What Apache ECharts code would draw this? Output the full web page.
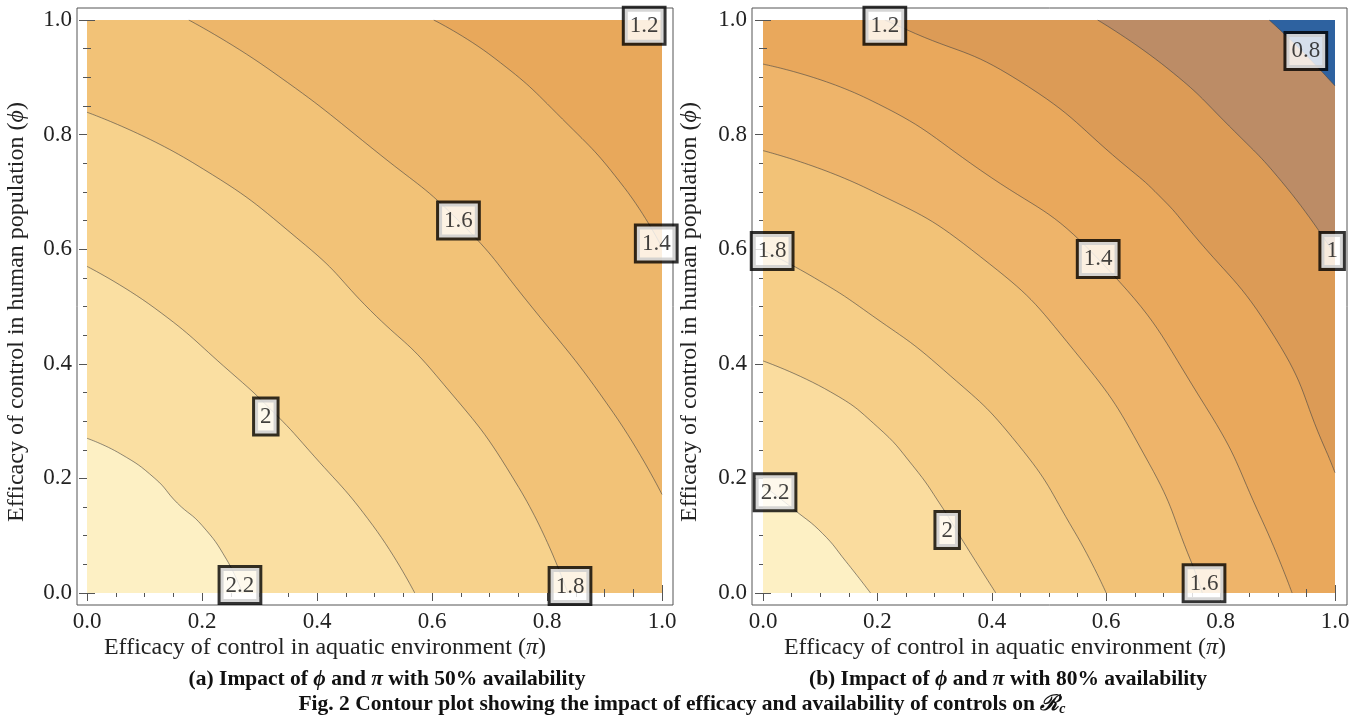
<!DOCTYPE html>
<html>
<head>
    <meta charset="utf-8" />
    <title>Contour plot</title>
    <script src="https://cdn.jsdelivr.net/npm/echarts@6.0.0/dist/echarts.min.js"></script>
</head>
<body style="margin:0;background:#fff">
    <div id="main" style="width:1364px;height:725px;"></div>
    <script type="text/javascript">
        // tick labels shared by all four axes
        var tickLabels = ['0.0', '0.2', '0.4', '0.6', '0.8', '1.0'];

        // (a) 50% availability : contour lines as [pi, phi]
        var a22 = [[0, 0.270], [0.058, 0.243], [0.118, 0.200], [0.157, 0.157], [0.200, 0.118], [0.243, 0.058], [0.270, 0]];
        var a20 = [[0, 0.570], [0.118, 0.497], [0.249, 0.386], [0.320, 0.320], [0.386, 0.249], [0.497, 0.118], [0.570, 0]];
        var a18 = [[0, 0.839], [0.184, 0.751], [0.380, 0.607], [0.493, 0.493], [0.607, 0.380], [0.751, 0.184], [0.836, 0]];
        var a16 = [[0.177, 1], [0.315, 0.915], [0.511, 0.764], [0.648, 0.648], [0.764, 0.511], [0.915, 0.315], [1, 0.172]];
        var a14 = [[0.603, 1], [0.708, 0.934], [0.827, 0.827], [0.934, 0.708], [1, 0.603]];
        // contour labels [pi, phi, text]
        var aLabels = [[0.969, 0.99, '1.2'], [0.646, 0.65, '1.6'], [0.99, 0.61, '1.4'],
                       [0.311, 0.308, '2'], [0.266, 0.014, '2.2'], [0.840, 0.012, '1.8']];

        // (b) 80% availability
        var b22 = [[0, 0.188], [0.055, 0.145], [0.104, 0.104], [0.145, 0.055], [0.188, 0]];
        var b20 = [[0, 0.405], [0.118, 0.351], [0.200, 0.290], [0.262, 0.222], [0.313, 0.150], [0.350, 0.090], [0.407, 0]];
        var b18 = [[0, 0.598], [0.090, 0.550], [0.184, 0.489], [0.315, 0.390], [0.446, 0.259], [0.544, 0.108], [0.600, 0]];
        var b16 = [[0, 0.772], [0.184, 0.705], [0.380, 0.587], [0.544, 0.423], [0.675, 0.226], [0.748, 0.056], [0.768, 0]];
        var b14 = [[0, 0.923], [0.184, 0.862], [0.380, 0.738], [0.586, 0.583], [0.774, 0.325], [0.872, 0.128], [0.925, 0]];
        var b12 = [[0.213, 1], [0.249, 0.984], [0.446, 0.895], [0.643, 0.738], [0.693, 0.693], [0.738, 0.643], [0.895, 0.446], [0.984, 0.249], [1, 0.21]];
        var b10 = [[0.585, 1], [0.708, 0.915], [0.815, 0.815], [0.915, 0.708], [1, 0.590]];
        var b08 = [[0.885, 1], [0.944, 0.944], [1, 0.885]];
        var bLabels = [[0.213, 0.99, '1.2'], [0.949, 0.946, '0.8'], [0.016, 0.597, '1.8'], [0.586, 0.583, '1.4'],
                       [0.995, 0.597, '1'], [0.021, 0.176, '2.2'], [0.322, 0.110, '2'], [0.771, 0.017, '1.6']];

        var serif = 'Liberation Serif';
        var lineColor = 'rgba(70,70,70,0.6)';

        function axis(gridIndex, position, offset, showLabel) {
            return {
                type: 'value', gridIndex: gridIndex, position: position, offset: offset,
                min: 0, max: 1, interval: 0.2,
                axisLine: { show: false },
                axisTick: { show: true, inside: true, length: 8, lineStyle: { color: '#555' } },
                minorTick: { show: true, splitNumber: 4, length: 4, lineStyle: { color: '#555' } },
                splitLine: { show: false },
                minorSplitLine: { show: false },
                axisLabel: {
                    show: showLabel, margin: 5,
                    formatter: function (v) { return '{n|' + tickLabels[Math.round(v / 0.2)] + '}'; },
                    rich: { n: { fontFamily: serif, fontSize: 23, color: '#222' } }
                }
            };
        }

        // one line series per contour: the line plus the band it closes off
        function contour(data, idx, color, origin) {
            return {
                type: 'line', xAxisIndex: idx, yAxisIndex: idx, data: data,
                smooth: 0.5, symbol: 'none', silent: true, animation: false,
                lineStyle: { color: lineColor, width: 1 },
                areaStyle: { color: color, opacity: 1, origin: origin }
            };
        }

        function labels(data, idx) {
            return {
                type: 'scatter', xAxisIndex: idx, yAxisIndex: idx, data: data,
                symbolSize: 1, itemStyle: { color: 'transparent' }, silent: true, animation: false, z: 5,
                label: {
                    show: true, position: 'inside',
                    formatter: function (p) { return '{n|' + p.data[2] + '}'; },
                    rich: { n: { fontFamily: serif, fontSize: 23, color: '#111', lineHeight: 25, textBorderWidth: 0 } },
                    textBorderWidth: 0,
                    backgroundColor: '#fff', borderColor: '#000', borderWidth: 3,
                    padding: [5, 5, 4, 5]
                }
            };
        }

        var myChart = echarts.init(document.getElementById('main'));

        var txt = { fontFamily: serif, fontSize: 24, fill: '#222' };
        var txtI = { fontFamily: serif, fontSize: 24, fill: '#222', fontStyle: 'italic' };
        var cap = { fontFamily: serif, fontSize: 21.5, fill: '#111', fontWeight: 'bold' };
        var capI = { fontFamily: serif, fontSize: 21.5, fill: '#111', fontWeight: 'bold', fontStyle: 'italic' };
        var sub = { fontFamily: serif, fontSize: 14, fill: '#111', fontWeight: 'bold', fontStyle: 'italic', padding: [10, 0, 0, 0] };

        function title(x, y, text, rot) {
            return {
                type: 'text', x: x, y: y, rotation: rot || 0,
                style: { text: text, rich: { t: txt, i: txtI, c: cap, ci: capI, s: sub }, align: 'center', verticalAlign: 'middle' }
            };
        }

        var option = {
            animation: false,
            backgroundColor: '#fff',
            grid: [
                { left: 87, top: 20, width: 575, height: 573, show: true, backgroundColor: '#F2C277', borderWidth: 0, outerBoundsMode: 'none' },
                { left: 763, top: 20, width: 572, height: 573, show: true, backgroundColor: '#E9A85C', borderWidth: 0, outerBoundsMode: 'none' }
            ],
            xAxis: [axis(0, 'bottom', 12, true), axis(1, 'bottom', 12, true), axis(0, 'top', 12, false), axis(1, 'top', 12, false)],
            yAxis: [axis(0, 'left', 10, true), axis(1, 'left', 11, true), axis(0, 'right', 11, false), axis(1, 'right', 12, false)],
            series: [
                // (a)
                contour(a18, 0, '#F7D28C', 'start'),
                contour(a20, 0, '#FADFA2', 'start'),
                contour(a22, 0, '#FDF0C4', 'start'),
                contour(a16, 0, '#EDB66A', 'end'),
                contour(a14, 0, '#E8A85B', 'end'),
                labels(aLabels, 0),
                // (b)
                contour(b14, 1, '#EEB46A', 'start'),
                contour(b16, 1, '#F2C277', 'start'),
                contour(b18, 1, '#F6CE87', 'start'),
                contour(b20, 1, '#FADC9E', 'start'),
                contour(b22, 1, '#FDF0C4', 'start'),
                contour(b12, 1, '#DC9B56', 'end'),
                contour(b10, 1, '#BC8C66', 'end'),
                contour(b08, 1, '#2E62A0', 'end'),
                labels(bLabels, 1)
            ],
            graphic: [
                { type: 'rect', z: 1, shape: { x: 77, y: 8, width: 596, height: 597 }, style: { fill: 'none', stroke: '#555', lineWidth: 1 } },
                { type: 'rect', z: 1, shape: { x: 752, y: 8, width: 595, height: 597 }, style: { fill: 'none', stroke: '#555', lineWidth: 1 } },
                title(17, 312, '{t|Efficacy of control in human population (}{i|ϕ}{t|)}', Math.PI / 2),
                title(690, 312, '{t|Efficacy of control in human population (}{i|ϕ}{t|)}', Math.PI / 2),
                title(325, 648, '{t|Efficacy of control in aquatic environment (}{i|π}{t|)}'),
                title(1005, 648, '{t|Efficacy of control in aquatic environment (}{i|π}{t|)}'),
                title(387, 679, '{c|(a) Impact of }{ci|ϕ}{c| and }{ci|π}{c| with 50% availability}'),
                title(1008, 679, '{c|(b) Impact of }{ci|ϕ}{c| and }{ci|π}{c| with 80% availability}'),
                title(682, 704, '{c|Fig. 2 Contour plot showing the impact of efficacy and availability of controls on }{ci|ℛ}{s|c}')
            ]
        };

        myChart.setOption(option);
    </script>
</body>
</html>
